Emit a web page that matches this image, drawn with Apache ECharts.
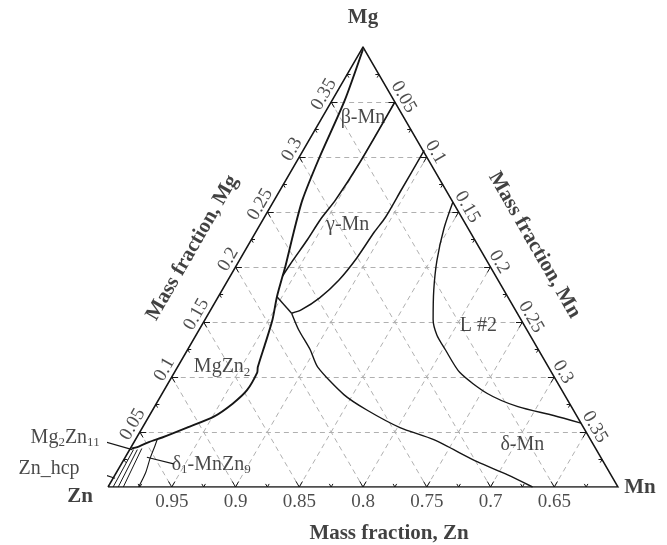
<!DOCTYPE html>
<html><head><meta charset="utf-8">
<script src="https://cdn.jsdelivr.net/npm/echarts@6/dist/echarts.min.js"></script>
<style>html,body{margin:0;padding:0;background:#fff}#c{width:667px;height:545px}</style>
</head><body><div id="c"></div>
<script>
// ---------- data ----------
const SPAN = 0.4; // displayed region: Zn from 1 down to 0.6
const majorTicks = [0.05, 0.1, 0.15, 0.2, 0.25, 0.3, 0.35];
const minorTicks = [0.025, 0.075, 0.125, 0.175, 0.225, 0.275, 0.325, 0.375];
const znTickLabels = ['0.95', '0.9', '0.85', '0.8', '0.75', '0.7', '0.65'];
const mgTickLabels = ['0.05', '0.1', '0.15', '0.2', '0.25', '0.3', '0.35'];
const mnTickLabels = ['0.05', '0.1', '0.15', '0.2', '0.25', '0.3', '0.35'];

// phase boundaries, points as [Mg, Mn] mass fractions (Zn = 1 - Mg - Mn)
const mgzn2Boundary = [[0.398,0.001],[0.351,0.010],[0.300,0.016],[0.261,0.022],[0.231,0.030],[0.200,0.039],[0.192,0.041],[0.173,0.046],[0.152,0.053],[0.131,0.058],[0.109,0.063],[0.104,0.065],[0.088,0.065],[0.076,0.060],[0.064,0.051],[0.054,0.035],[0.045,0.020],[0.041,0.012],[0.037,0.006],[0.035,0.001]];
const betaGammaBoundary = [[0.350,0.050],[0.295,0.050],[0.261,0.048],[0.243,0.045],[0.225,0.044],[0.206,0.042],[0.192,0.041]];
const gammaDeltaBoundary = [[0.306,0.095],[0.270,0.095],[0.245,0.095],[0.232,0.093],[0.208,0.091],[0.188,0.087],[0.172,0.080],[0.161,0.071],[0.158,0.065]];
const mgzn2DeltaBoundary = [[0.173,0.046],[0.158,0.065]];
const deltaBoundary = [[0.158,0.065],[0.143,0.078],[0.125,0.096],[0.109,0.110],[0.084,0.143],[0.070,0.168],[0.054,0.202],[0.043,0.234],[0.023,0.278],[0.011,0.308],[0,0.333]];
const liquid2Boundary = [[0.259,0.141],[0.235,0.146],[0.206,0.155],[0.179,0.166],[0.152,0.179],[0.138,0.189],[0.125,0.202],[0.104,0.224],[0.085,0.255],[0.073,0.285],[0.065,0.317],[0.058,0.342]];
const znHcpLeft = [[0,0.004],[0.034,0.003]];
const znHcpRight = [[0,0.008],[0.034,0.006]];
const mg2zn11Right = [[0,0.012],[0.035,0.009]];
const delta1Right = [[0,0.024],[0.013,0.023],[0.026,0.020],[0.038,0.018],[0.043,0.017]];

// phase labels: text and [Mg, Mn] composition of label centre
const phaseNames = ['β-Mn', 'γ-Mn', 'MgZn{s|2}', 'L #2', 'δ-Mn'];
const phaseAt = [[0.336,0.032],[0.238,0.069],[0.109,0.035],[0.147,0.217],[0.038,0.306]];

// leader lines for small phases near the Zn corner, [Mg, Mn]
const mg2zn11Leader = [[0.042,-0.026],[0.034,0.002]];
const znHcpLeader = [[0.016,-0.024],[0.008,0.0015]];
const delta1Leader = [[0.027,0.017],[0.021,0.041]];

// ---------- helpers ----------
const FONT = '"Liberation Serif", "Times New Roman", serif';
const R3 = Math.sqrt(3) / 2;
const xy = p => [p[1] + 0.5 * p[0], R3 * p[0]]; // [Mg, Mn] -> cartesian

const INK = '#161616';
const subRich = { s: { fontSize: 13, fontFamily: FONT, color: '#1a1a1a', padding: [10, 0, 0, 0] } };

function curve(points, width) {
  return { type: 'line', data: points.map(xy), showSymbol: false, smooth: 0.25, silent: true, z: 4,
    lineStyle: { color: INK, width: width || 1.4 } };
}
function straight(points, width) {
  return { type: 'line', data: points.map(xy), showSymbol: false, smooth: false, silent: true, z: 4, clip: false,
    lineStyle: { color: INK, width: width || 1.2 } };
}

// grid lines
const gridSegs = [];
majorTicks.forEach(v => {
  gridSegs.push({ coords: [xy([v, 0]), xy([v, SPAN - v])] });   // constant Mg
  gridSegs.push({ coords: [xy([0, v]), xy([SPAN - v, v])] });   // constant Mn
  gridSegs.push({ coords: [xy([v, 0]), xy([0, v])] });          // constant Zn
});

// ticks
const tickSegs = [];
function addTicks(vals, L) {
  vals.forEach(v => {
    tickSegs.push({ coords: [xy([0, v]), xy([L, v])] });
    tickSegs.push({ coords: [xy([0, v]), xy([L, v - L])] });
    tickSegs.push({ coords: [xy([v, 0]), xy([v, L])] });
    tickSegs.push({ coords: [xy([v, 0]), xy([v - L, L])] });
    tickSegs.push({ coords: [xy([SPAN - v, v]), xy([SPAN - v, v - L])] });
    tickSegs.push({ coords: [xy([SPAN - v, v]), xy([SPAN - v - L, v])] });
  });
}
addTicks(majorTicks, 0.005);
addTicks(minorTicks, 0.0028);

function textSeries(items, base) {
  return {
    type: 'scatter', symbolSize: 0, silent: true, clip: false, z: 6,
    data: items.map(it => ({ name: it.text, value: xy(it.at), label: it.label || {} })),
    label: Object.assign({ show: true, position: 'inside', formatter: '{b}', fontFamily: FONT, color: '#1a1a1a', rich: subRich }, base)
  };
}

// label offsets are in the label's own (rotated) frame
const tickLabelStyle = { fontSize: 19, color: '#1f1f1f' };
const znLabels = textSeries(majorTicks.map((v, i) => ({ text: znTickLabels[i], at: [0, v] })),
  Object.assign({ offset: [0, 15] }, tickLabelStyle));
const mgLabels = textSeries(majorTicks.map((v, i) => ({ text: mgTickLabels[i], at: [v, 0] })),
  Object.assign({ offset: [3, -10], rotate: 60 }, tickLabelStyle));
const mnLabels = textSeries(majorTicks.map((v, i) => ({ text: mnTickLabels[i], at: [SPAN - v, v] })),
  Object.assign({ offset: [0, -10], rotate: -60 }, tickLabelStyle));

const titleStyle = { fontSize: 21, fontWeight: 'bold', color: '#111' };
const titles = textSeries([
  { text: 'Mg', at: [SPAN, 0], label: { offset: [0, -29] } },
  { text: 'Zn', at: [0, 0], label: { offset: [-28, 10] } },
  { text: 'Mn', at: [0, SPAN], label: { offset: [22, 1] } },
  { text: 'Mass fraction, Zn', at: [0, SPAN / 2], label: { offset: [26, 47] } },
  { text: 'Mass fraction, Mg', at: [SPAN / 2, 0], label: { offset: [-5, -47], rotate: 60 } },
  { text: 'Mass fraction, Mn', at: [SPAN / 2, SPAN / 2], label: { offset: [3, -49], rotate: -60 } }
], titleStyle);

const phaseLabels = textSeries(phaseNames.map((t, i) => ({ text: t, at: phaseAt[i] })), { fontSize: 20 });
const cornerLabels = textSeries([
  { text: 'Mg{s|2}Zn{s|11}', at: mg2zn11Leader[0], label: { align: 'right', offset: [-2, -3] } },
  { text: 'Zn_hcp', at: znHcpLeader[0], label: { align: 'right', offset: [-8, -1] } },
  { text: 'δ{s|1}-MnZn{s|9}', at: delta1Leader[1], label: { align: 'left', offset: [-2, 1] } }
], { fontSize: 20 });

const chart = echarts.init(document.getElementById('c'), null, { renderer: 'canvas' });
chart.setOption({
  animation: false,
  backgroundColor: '#fff',
  grid: { left: 108, top: 47, width: 510, height: 440 },
  xAxis: { type: 'value', min: 0, max: SPAN, show: false },
  yAxis: { type: 'value', min: 0, max: SPAN * R3, show: false },
  series: [
    { type: 'lines', coordinateSystem: 'cartesian2d', silent: true, z: 1, data: gridSegs,
      lineStyle: { color: '#b0b0b0', width: 1, type: [5, 4], opacity: 1 } },
    { type: 'lines', coordinateSystem: 'cartesian2d', silent: true, z: 3, data: tickSegs,
      lineStyle: { color: INK, width: 1, opacity: 1 } },
    { type: 'lines', coordinateSystem: 'cartesian2d', polyline: true, silent: true, z: 3,
      data: [{ coords: [xy([0, 0]), xy([0, SPAN]), xy([SPAN, 0]), xy([0, 0])] }],
      lineStyle: { color: INK, width: 1.5, opacity: 1 } },
    curve(mgzn2Boundary, 1.9),
    curve(betaGammaBoundary, 1.6),
    curve(gammaDeltaBoundary, 1.5),
    straight(mgzn2DeltaBoundary, 1.4),
    curve(deltaBoundary, 1.4),
    curve(liquid2Boundary, 1.4),
    straight(znHcpLeft, 1),
    straight(znHcpRight, 1),
    straight(mg2zn11Right, 1),
    curve(delta1Right, 1.1),
    straight(mg2zn11Leader, 1.1),
    straight(znHcpLeader, 1.1),
    straight(delta1Leader, 1.1),
    znLabels, mgLabels, mnLabels, titles, phaseLabels, cornerLabels
  ]
});
</script>
</body></html>
